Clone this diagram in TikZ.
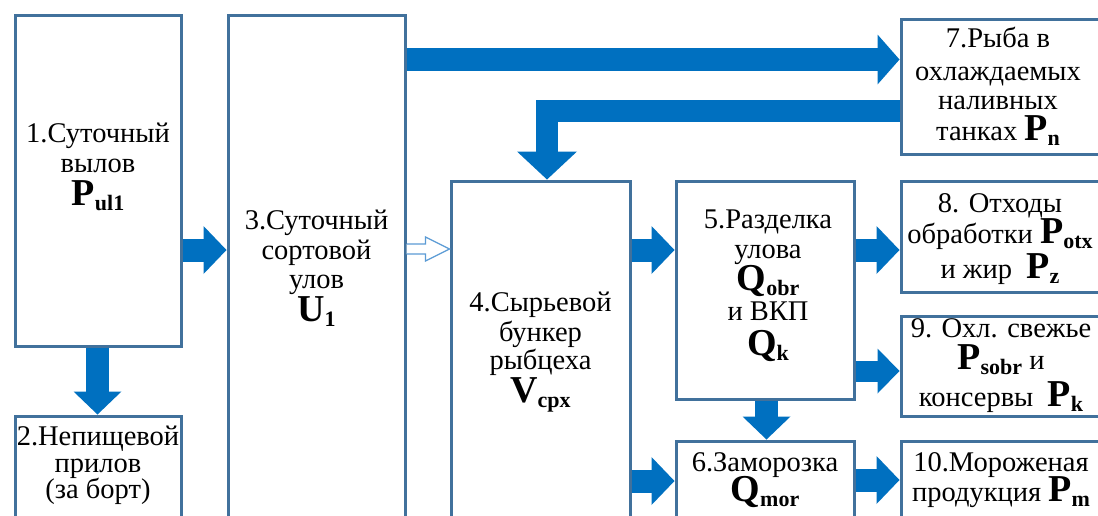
\documentclass[tikz,border=0pt]{standalone}
\usepackage{fontspec}
\setmainfont{Liberation Serif}
\usetikzlibrary{arrows.meta,calc}
\definecolor{boxc}{HTML}{41719C}
\definecolor{arrc}{HTML}{0070C0}
\definecolor{hollowc}{HTML}{5B9BD5}
\newcommand\Sy[2]{{\fontsize{38}{38}\selectfont\bfseries #1}{\fontsize{22}{22}\selectfont\bfseries\raisebox{-5pt}{#2}}}
\tikzset{
  box/.style={draw=boxc, line width=3pt, fill=white, inner sep=0pt, rectangle},
  txt/.style={align=center, inner sep=0pt, anchor=north, font=\fontsize{28.5}{29.5}\selectfont},
  barrow/.style={draw=arrc, line width=23pt, -{Triangle[length=23pt,width=48pt,line width=0pt]}},
}
\begin{document}
\begin{tikzpicture}[x=1pt,y=-1pt]
\useasboundingbox (0,0) rectangle (1098,515);
\clip (0,0) rectangle (1098,515);
\fill[white] (0,0) rectangle (1098,515);
% boxes
\node[box, minimum width=166pt, minimum height=331pt] (b1) at (98,180.5) {};
\node[box, minimum width=166pt, minimum height=144pt] (b2) at (98,488) {};
\node[box, minimum width=177pt, minimum height=545pt] (b3) at (316.5,287.5) {};
\node[box, minimum width=179pt, minimum height=379pt] (b4) at (540.5,370.5) {};
\node[box, minimum width=178pt, minimum height=218pt] (b5) at (765,290) {};
\node[box, minimum width=178pt, minimum height=119pt] (b6) at (765,500.5) {};
\node[box, minimum width=199pt, minimum height=135pt] (b7) at (1000.5,86.5) {};
\node[box, minimum width=199pt, minimum height=111pt] (b8) at (1000.5,236.5) {};
\node[box, minimum width=199pt, minimum height=100pt] (b9) at (1000.5,366) {};
\node[box, minimum width=199pt, minimum height=119pt] (b10) at (1000.5,500.5) {};
% texts
\node[txt] (t1) at (98,123) {1.Суточный\\вылов\\[4pt]\Sy{P}{ul1}};
\node[txt] (t2) at (98,426) {2.Непищевой\\[-3pt]прилов\\[-3pt](за борт)};
\node[txt] (t3) at (316.5,210) {3.Суточный\\сортовой\\улов\\[1pt]\Sy{U}{1}};
\node[txt] (t4) at (540.5,292) {4.Сырьевой\\бункер\\[-1pt]рыбцеха\\[1pt]\Sy{V}{cpx}};
\node[txt] (t5) at (768,210) {5.Разделка\\улова\\[0pt]\Sy{Q}{obr}\\[0pt]и ВКП\\[6pt]\Sy{Q}{k}};
\node[txt] (t6) at (765,452) {6.Заморозка\\[-2pt]\Sy{Q}{mor}};
\node[txt] (t7) at (998,27) {7.Рыба в\\[3pt]охлаждаемых\\наливных\\[1pt]танках \Sy{P}{n}};
\node[txt] (t8) at (1000,193) {8. Отходы\\обработки \Sy{P}{otx}\\[3pt]и жир \ \Sy{P}{z}};
\node[txt] (t9) at (1001,318) {9. Охл. свежье\\[3pt]\Sy{P}{sobr} и\\[6pt]консервы \ \Sy{P}{k}};
\node[txt] (t10) at (1001,452) {10.Мороженая\\[-2pt]продукция \Sy{P}{m}};
% arrows
\draw[barrow] (b1.east |- 0,250) -- (b3.west |- 0,250);
\draw[barrow] (b1.south -| 97.5,0) -- (b2.north -| 97.5,0);
\draw[barrow, -{Triangle[length=22pt,width=50pt,line width=0pt]}] (b3.east |- 0,59.5) -- (b7.west |- 0,59.5);
\draw[barrow, line width=22pt, line join=miter, -{Triangle[length=28pt,width=60pt,line width=0pt]}] (b7.west |- 0,110.5) -| (b4.north -| 547,0);
\draw[barrow] (b4.east |- 0,250) -- (b5.west |- 0,250);
\draw[barrow] (b4.east |- 0,481) -- (b6.west |- 0,481);
\draw[barrow] (b5.south -| 766.5,0) -- (b6.north -| 766.5,0);
\draw[barrow] (b5.east |- 0,250) -- (b8.west |- 0,250);
\draw[barrow, line width=21pt, -{Triangle[length=22pt,width=45pt,line width=0pt]}] (b5.east |- 0,371) -- (b9.west |- 0,371);
\draw[barrow] (b6.east |- 0,480) -- (b10.west |- 0,480);
% hollow arrow 3 -> 4
\coordinate (h1) at (b3.east |- 0,249);
\coordinate (h2) at (b4.west |- 0,249);
\draw[hollowc, line width=1.2pt, fill=white, line join=miter]
  ($(h1)+(0,-5)$) -- ($(h2)+(-24,-5)$) -- ($(h2)+(-24,-12)$) -- (h2)
  -- ($(h2)+(-24,12)$) -- ($(h2)+(-24,5)$) -- ($(h1)+(0,5)$);
\end{tikzpicture}
\end{document}
